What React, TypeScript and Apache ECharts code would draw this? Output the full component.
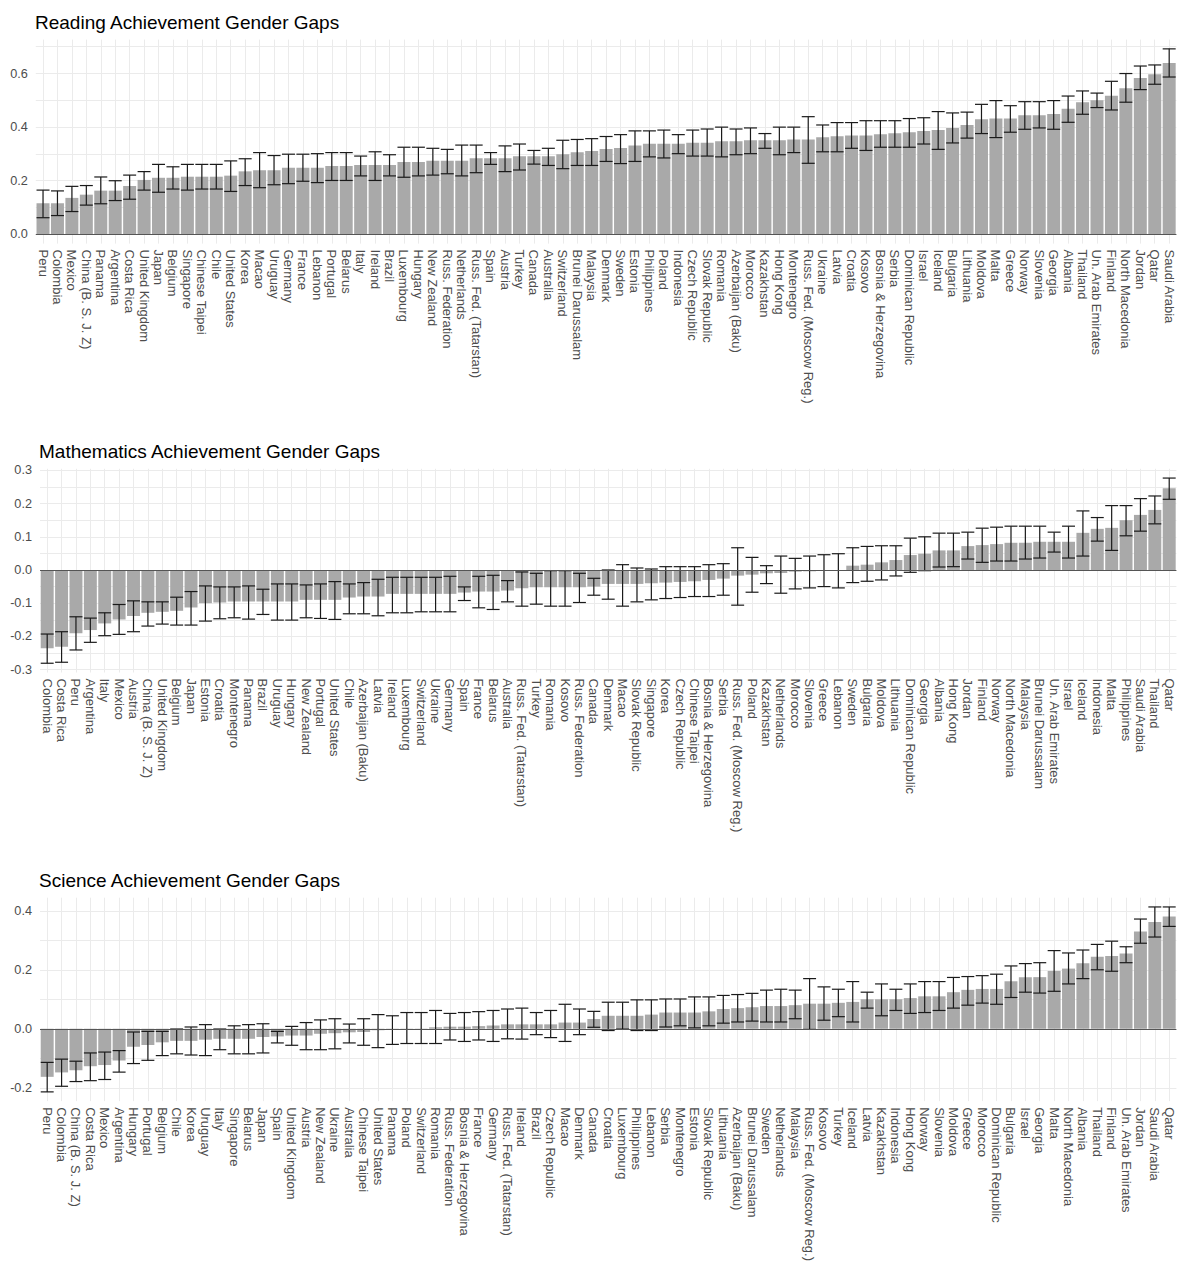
import React, { useEffect, useRef } from "react";
import * as echarts from "echarts";

// ---------------- DATA ----------------
const readingCountries = ["Peru","Colombia","Mexico","China (B. S. J. Z)","Panama","Argentina","Costa Rica","United Kingdom","Japan","Belgium","Singapore","Chinese Taipei","Chile","United States","Korea","Macao","Uruguay","Germany","France","Lebanon","Portugal","Belarus","Italy","Ireland","Brazil","Luxembourg","Hungary","New Zealand","Russ. Federation","Netherlands","Russ. Fed. (Tatarstan)","Spain","Austria","Turkey","Canada","Australia","Switzerland","Brunei Darussalam","Malaysia","Denmark","Sweden","Estonia","Philippines","Poland","Indonesia","Czech Republic","Slovak Republic","Romania","Azerbaijan (Baku)","Morocco","Kazakhstan","Hong Kong","Montenegro","Russ. Fed. (Moscow Reg.)","Ukraine","Latvia","Croatia","Kosovo","Bosnia & Herzegovina","Serbia","Dominican Republic","Israel","Iceland","Bulgaria","Lithuania","Moldova","Malta","Greece","Norway","Slovenia","Georgia","Albania","Thailand","Un. Arab Emirates","Finland","North Macedonia","Jordan","Qatar","Saudi Arabia"];
const readingGap = [0.116,0.116,0.136,0.148,0.163,0.163,0.18,0.203,0.211,0.211,0.215,0.215,0.215,0.219,0.235,0.239,0.239,0.248,0.248,0.248,0.255,0.255,0.259,0.259,0.259,0.27,0.27,0.275,0.275,0.275,0.284,0.284,0.284,0.291,0.291,0.291,0.299,0.306,0.311,0.318,0.322,0.331,0.338,0.338,0.338,0.342,0.342,0.347,0.347,0.351,0.351,0.351,0.354,0.354,0.362,0.366,0.369,0.369,0.373,0.377,0.381,0.386,0.389,0.397,0.408,0.429,0.432,0.432,0.444,0.444,0.449,0.469,0.493,0.5,0.517,0.545,0.583,0.597,0.639];
const readingUpper = [0.165,0.162,0.179,0.182,0.214,0.2,0.221,0.234,0.261,0.252,0.261,0.261,0.261,0.274,0.282,0.305,0.294,0.299,0.299,0.301,0.305,0.305,0.292,0.308,0.297,0.325,0.325,0.321,0.317,0.333,0.333,0.305,0.33,0.337,0.313,0.321,0.351,0.354,0.357,0.365,0.372,0.386,0.386,0.389,0.372,0.389,0.393,0.4,0.393,0.397,0.376,0.4,0.4,0.439,0.408,0.417,0.417,0.424,0.424,0.424,0.432,0.435,0.458,0.453,0.456,0.485,0.499,0.48,0.495,0.495,0.499,0.516,0.535,0.527,0.571,0.6,0.628,0.632,0.692];
const readingLower = [0.062,0.07,0.085,0.109,0.114,0.126,0.131,0.165,0.157,0.169,0.165,0.169,0.169,0.16,0.182,0.174,0.185,0.189,0.198,0.193,0.201,0.201,0.218,0.201,0.218,0.213,0.218,0.221,0.226,0.218,0.23,0.261,0.234,0.24,0.262,0.257,0.245,0.257,0.257,0.272,0.264,0.272,0.289,0.285,0.301,0.292,0.292,0.289,0.297,0.301,0.321,0.297,0.305,0.265,0.308,0.308,0.321,0.313,0.325,0.325,0.325,0.337,0.317,0.341,0.359,0.376,0.361,0.381,0.392,0.397,0.392,0.418,0.448,0.473,0.464,0.493,0.54,0.56,0.587];
const readingTickLabels = [0, 0.2, 0.4, 0.6];
const readingGridValues = [0, 0.1, 0.2, 0.3, 0.4, 0.5, 0.6, 0.7];

const mathCountries = ["Colombia","Costa Rica","Peru","Argentina","Italy","Mexico","Austria","China (B. S. J. Z)","United Kingdom","Belgium","Japan","Estonia","Croatia","Montenegro","Panama","Brazil","Uruguay","Hungary","New Zealand","Portugal","United States","Chile","Azerbaijan (Baku)","Latvia","Ireland","Luxembourg","Switzerland","Ukraine","Germany","Spain","France","Belarus","Australia","Russ. Fed. (Tatarstan)","Turkey","Romania","Kosovo","Russ. Federation","Canada","Denmark","Macao","Slovak Republic","Singapore","Korea","Czech Republic","Chinese Taipei","Bosnia & Herzegovina","Serbia","Russ. Fed. (Moscow Reg.)","Poland","Kazakhstan","Netherlands","Morocco","Slovenia","Greece","Lebanon","Sweden","Bulgaria","Moldova","Lithuania","Dominican Republic","Georgia","Albania","Hong Kong","Jordan","Finland","Norway","North Macedonia","Malaysia","Brunei Darussalam","Un. Arab Emirates","Israel","Iceland","Indonesia","Malta","Philippines","Saudi Arabia","Thailand","Qatar"];
const mathGap = [-0.236,-0.231,-0.191,-0.181,-0.161,-0.149,-0.139,-0.129,-0.126,-0.123,-0.113,-0.1,-0.098,-0.095,-0.095,-0.095,-0.095,-0.095,-0.09,-0.09,-0.09,-0.083,-0.08,-0.08,-0.072,-0.072,-0.072,-0.072,-0.072,-0.068,-0.065,-0.065,-0.062,-0.055,-0.052,-0.052,-0.052,-0.052,-0.05,-0.042,-0.042,-0.042,-0.04,-0.038,-0.036,-0.034,-0.03,-0.026,-0.017,-0.014,-0.01,-0.009,-0.005,-0.004,-0.002,-0.001,0.013,0.016,0.023,0.03,0.045,0.049,0.059,0.059,0.072,0.075,0.078,0.082,0.082,0.085,0.085,0.085,0.112,0.124,0.127,0.15,0.166,0.181,0.246];
const mathUpper = [-0.193,-0.186,-0.141,-0.145,-0.129,-0.104,-0.093,-0.096,-0.096,-0.082,-0.065,-0.048,-0.051,-0.051,-0.048,-0.058,-0.042,-0.042,-0.045,-0.042,-0.035,-0.042,-0.038,-0.028,-0.022,-0.022,-0.022,-0.022,-0.019,-0.051,-0.019,-0.016,-0.032,-0.006,-0.01,-0.002,-0.002,-0.01,-0.025,0.0,0.016,0.006,0.003,0.01,0.01,0.01,0.016,0.019,0.067,0.038,0.013,0.042,0.035,0.042,0.046,0.049,0.067,0.071,0.073,0.073,0.096,0.1,0.111,0.111,0.114,0.126,0.129,0.132,0.132,0.132,0.114,0.132,0.178,0.158,0.194,0.194,0.215,0.223,0.277];
const mathLower = [-0.281,-0.278,-0.241,-0.218,-0.198,-0.194,-0.186,-0.169,-0.163,-0.166,-0.166,-0.154,-0.147,-0.144,-0.148,-0.134,-0.151,-0.151,-0.144,-0.146,-0.149,-0.132,-0.132,-0.138,-0.129,-0.129,-0.126,-0.126,-0.126,-0.092,-0.114,-0.119,-0.096,-0.109,-0.103,-0.109,-0.109,-0.098,-0.076,-0.088,-0.109,-0.096,-0.09,-0.086,-0.083,-0.08,-0.08,-0.076,-0.106,-0.067,-0.041,-0.07,-0.057,-0.054,-0.05,-0.054,-0.038,-0.034,-0.03,-0.018,-0.007,-0.002,0.009,0.01,0.033,0.023,0.027,0.027,0.033,0.036,0.054,0.036,0.042,0.087,0.059,0.103,0.117,0.139,0.213];
const mathTickLabels = [-0.3, -0.2, -0.1, 0, 0.1, 0.2, 0.3];
const mathGridValues = [-0.3, -0.25, -0.2, -0.15, -0.1, -0.05, 0, 0.05, 0.1, 0.15, 0.2, 0.25, 0.3];

const scienceCountries = ["Peru","Colombia","China (B. S. J. Z)","Costa Rica","Mexico","Argentina","Hungary","Portugal","Belgium","Chile","Korea","Uruguay","Italy","Singapore","Belarus","Japan","Spain","United Kingdom","Austria","New Zealand","Ukraine","Australia","Chinese Taipei","United States","Panama","Poland","Switzerland","Romania","Russ. Federation","Bosnia & Herzegovina","France","Germany","Russ. Fed. (Tatarstan)","Ireland","Brazil","Czech Republic","Macao","Denmark","Canada","Croatia","Luxembourg","Philippines","Lebanon","Serbia","Montenegro","Estonia","Slovak Republic","Lithuania","Azerbaijan (Baku)","Brunei Darussalam","Sweden","Netherlands","Malaysia","Russ. Fed. (Moscow Reg.)","Kosovo","Turkey","Iceland","Latvia","Kazakhstan","Indonesia","Hong Kong","Norway","Slovenia","Moldova","Greece","Morocco","Dominican Republic","Bulgaria","Israel","Georgia","Malta","North Macedonia","Albania","Thailand","Finland","Un. Arab Emirates","Jordan","Saudi Arabia","Qatar"];
const scienceGap = [-0.163,-0.148,-0.141,-0.127,-0.123,-0.108,-0.061,-0.055,-0.046,-0.041,-0.041,-0.037,-0.034,-0.034,-0.034,-0.028,-0.026,-0.023,-0.023,-0.017,-0.015,-0.012,-0.011,-0.005,-0.003,-0.001,-0.001,0.005,0.007,0.007,0.009,0.011,0.015,0.015,0.015,0.015,0.021,0.021,0.033,0.044,0.044,0.044,0.048,0.055,0.055,0.055,0.059,0.067,0.07,0.073,0.077,0.077,0.08,0.085,0.085,0.088,0.091,0.1,0.1,0.1,0.104,0.11,0.11,0.124,0.132,0.135,0.135,0.161,0.175,0.175,0.196,0.204,0.222,0.244,0.247,0.255,0.33,0.362,0.381];
const scienceUpper = [-0.114,-0.103,-0.11,-0.082,-0.079,-0.074,-0.011,-0.009,-0.009,-0.001,0.006,0.014,-0.001,0.01,0.014,0.017,-0.009,0.008,0.021,0.03,0.034,0.016,0.034,0.048,0.044,0.055,0.055,0.062,0.052,0.055,0.058,0.062,0.067,0.07,0.055,0.062,0.083,0.067,0.059,0.09,0.09,0.098,0.098,0.101,0.101,0.108,0.108,0.113,0.116,0.12,0.131,0.134,0.131,0.17,0.142,0.134,0.16,0.124,0.152,0.134,0.152,0.16,0.16,0.174,0.177,0.18,0.185,0.213,0.221,0.224,0.265,0.257,0.267,0.286,0.297,0.278,0.372,0.413,0.413];
const scienceLower = [-0.214,-0.195,-0.179,-0.176,-0.172,-0.147,-0.118,-0.107,-0.091,-0.085,-0.089,-0.091,-0.071,-0.085,-0.085,-0.082,-0.048,-0.056,-0.071,-0.071,-0.068,-0.048,-0.056,-0.064,-0.053,-0.05,-0.05,-0.05,-0.038,-0.043,-0.038,-0.043,-0.034,-0.035,-0.02,-0.03,-0.043,-0.02,0.005,-0.006,-0.001,-0.006,-0.006,0.006,0.01,0.003,0.01,0.019,0.023,0.026,0.023,0.023,0.034,-0.002,0.029,0.041,0.023,0.07,0.044,0.062,0.052,0.055,0.062,0.07,0.08,0.087,0.083,0.106,0.124,0.121,0.127,0.152,0.17,0.2,0.195,0.224,0.29,0.311,0.347];
const scienceTickLabels = [-0.2, 0, 0.2, 0.4];
const scienceGridValues = [-0.2, -0.1, 0, 0.1, 0.2, 0.3, 0.4];

const titles = ["Reading Achievement Gender Gaps", "Mathematics Achievement Gender Gaps", "Science Achievement Gender Gaps"];

// ---------------- LAYOUT / STYLE ----------------
const FONT = '"Liberation Sans", Arial, Helvetica, sans-serif';
const BAR_COLOR = "#a9a9a9";
const GRID_COLOR = "#ebebeb";
const TEXT_COLOR = "#4d4d4d";

const layouts = [
  { left: 35.8, right: 3.6, top: 39.6, height: 204, titleLeft: 35, titleTop: 12.5 },
  { left: 40.0, right: 3.6, top: 468.8, height: 203.7, titleLeft: 39, titleTop: 441.5 },
  { left: 40.0, right: 3.6, top: 897.7, height: 203.7, titleLeft: 39, titleTop: 870.5 },
];

const panels = [
  { cats: readingCountries, vals: readingGap, lo: readingLower, hi: readingUpper, labels: readingTickLabels, grid: readingGridValues },
  { cats: mathCountries, vals: mathGap, lo: mathLower, hi: mathUpper, labels: mathTickLabels, grid: mathGridValues },
  { cats: scienceCountries, vals: scienceGap, lo: scienceLower, hi: scienceUpper, labels: scienceTickLabels, grid: scienceGridValues },
];

function buildOption() {
  const grid: any[] = [];
  const xAxis: any[] = [];
  const yAxis: any[] = [];
  const series: any[] = [];
  const title: any[] = [];

  panels.forEach((p, k) => {
    const L = layouts[k];
    const dataMin = Math.min(0, ...p.lo, ...p.vals);
    const dataMax = Math.max(0, ...p.hi, ...p.vals);
    const pad = (dataMax - dataMin) * 0.05;

    title.push({
      text: titles[k],
      left: L.titleLeft,
      top: L.titleTop,
      padding: 0,
      textStyle: { fontSize: 19, fontWeight: "normal", color: "#000000", fontFamily: FONT },
    });

    grid.push({ left: L.left, right: L.right, top: L.top, height: L.height, containLabel: false });

    xAxis.push({
      type: "category",
      gridIndex: k,
      data: p.cats,
      axisLine: { show: false, onZero: false },
      axisTick: { show: false, alignWithLabel: true },
      axisLabel: {
        interval: 0,
        rotate: -90,
        color: TEXT_COLOR,
        fontSize: 13,
        fontFamily: FONT,
        margin: 6,
      },
      splitLine: { show: true, interval: 0, alignWithLabel: true, lineStyle: { color: GRID_COLOR, width: 1 } },
    });

    yAxis.push({
      type: "value",
      gridIndex: k,
      min: dataMin - pad,
      max: dataMax + pad,
      axisLine: { show: false },
      axisTick: { show: false, customValues: p.grid },
      axisLabel: {
        customValues: p.labels,
        formatter: (v: number) => (Math.abs(v) < 1e-9 ? "0.0" : v.toFixed(1)),
        color: TEXT_COLOR,
        fontSize: 12.7,
        fontFamily: FONT,
        margin: 8,
      },
      splitLine: { show: true, lineStyle: { color: GRID_COLOR, width: 1 } },
    });

    series.push({
      type: "bar",
      xAxisIndex: k,
      yAxisIndex: k,
      data: p.vals,
      barWidth: "90%",
      itemStyle: { color: BAR_COLOR },
      silent: true,
      z: 2,
    });

    series.push({
      type: "custom",
      xAxisIndex: k,
      yAxisIndex: k,
      silent: true,
      z: 3,
      data: p.cats.map((_c, i) => [i, p.lo[i], p.hi[i]]),
      encode: { x: 0, y: [1, 2] },
      renderItem: (_params: any, api: any) => {
        const i = api.value(0);
        const t = api.coord([i, api.value(2)]);
        const b = api.coord([i, api.value(1)]);
        const half = api.size([1, 0])[0] * 0.45;
        const style = { stroke: "#1a1a1a", lineWidth: 1.2 };
        return {
          type: "group",
          children: [
            { type: "line", shape: { x1: t[0], y1: t[1], x2: b[0], y2: b[1] }, style },
            { type: "line", shape: { x1: t[0] - half, y1: t[1], x2: t[0] + half, y2: t[1] }, style },
            { type: "line", shape: { x1: b[0] - half, y1: b[1], x2: b[0] + half, y2: b[1] }, style },
          ],
        };
      },
      markLine: {
        silent: true,
        symbol: ["none", "none"],
        label: { show: false },
        lineStyle: { color: "#555555", width: 1, type: "solid" },
        data: [{ yAxis: 0 }],
      },
    });
  });

  return {
    animation: false,
    backgroundColor: "#ffffff",
    title,
    grid,
    xAxis,
    yAxis,
    series,
  };
}

export default function App() {
  const ref = useRef<HTMLDivElement>(null);
  useEffect(() => {
    if (!ref.current) return;
    const chart = echarts.init(ref.current, undefined, { renderer: "svg" });
    chart.setOption(buildOption() as any);
    return () => {
      chart.dispose();
    };
  }, []);
  return (
    <div
      ref={ref}
      style={{ position: "absolute", left: 0, top: 0, width: 1180, height: 1264, background: "#fff" }}
    />
  );
}
